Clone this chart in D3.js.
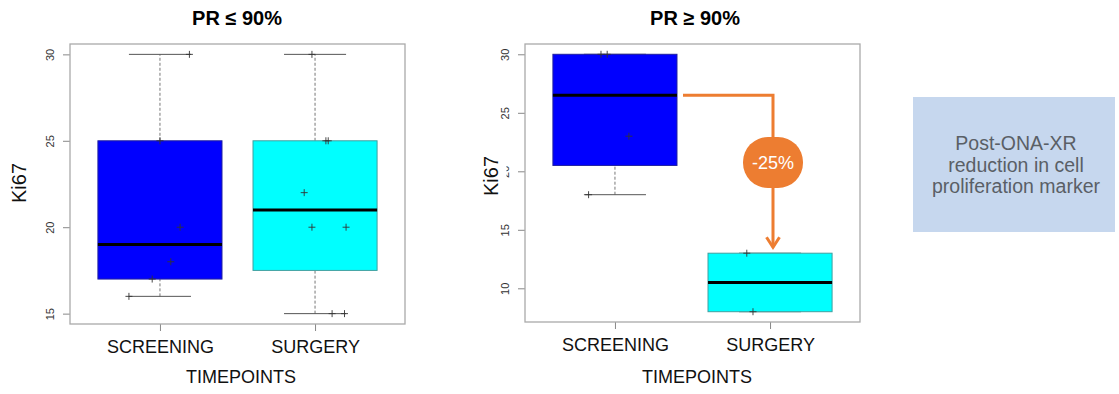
<!DOCTYPE html>
<html>
<head>
<meta charset="utf-8">
<script src="https://cdn.jsdelivr.net/npm/d3@7"></script>
<style>
  body { margin: 0; background: #fff; }
  text { font-family: "Liberation Sans", Arial, sans-serif; }
</style>
</head>
<body>
<div id="root"></div>
<script>
var width = 1119;
var height = 394;

var categories = ['SCREENING', 'SURGERY'];
var colors = ['#0000ff', '#00ffff'];

// PR <= 90% panel, raw Ki67 values per timepoint
var lowScreening = [30, 25, 20, 18, 17, 16];
var lowSurgery = [30, 25, 25, 22, 20, 20, 15, 15];
var lowJitterScreening = [0.19, 0, 0.13, 0.07, -0.05, -0.2];
var lowJitterSurgery = [-0.02, 0.07, 0.085, -0.07, -0.02, 0.2, 0.11, 0.19];
var lowTicks = [15, 20, 25, 30];

// PR >= 90% panel
var highScreening = [30, 30, 23, 18];
var highSurgery = [13, 8];
var highJitterScreening = [-0.09, -0.05, 0.09, -0.17];
var highJitterSurgery = [-0.15, -0.11];
var highTicks = [10, 15, 20, 25, 30];

var titles = ['PR \u2264 90%', 'PR \u2265 90%'];
var reductionLabel = '-25%';
var noteLines = ['Post-ONA-XR', 'reduction in cell', 'proliferation marker'];

var svg = d3.select('#root')
  .append('svg')
    .attr('width', width)
    .attr('height', height);

// R style fivenum
function fivenum(vals) {
  var x = vals.slice().sort(d3.ascending);
  var n = x.length;
  var n4 = Math.floor((n + 3) / 2) / 2;
  var d = [1, n4, (n + 1) / 2, n + 1 - n4, n];
  return d.map(function(v) {
    return 0.5 * (x[Math.floor(v) - 1] + x[Math.ceil(v) - 1]);
  });
}

function drawPanel(opt) {
  var g = svg.append('g');
  var all = opt.groups[0].concat(opt.groups[1]);
  var lo = d3.min(all), hi = d3.max(all);
  var pad = (hi - lo) * 0.04;

  var x = d3.scaleLinear().domain([0.42, 2.58]).range([opt.left, opt.right]);
  var y = d3.scaleLinear().domain([lo - pad, hi + pad]).range([opt.bottom, opt.top]);

  g.append('text')
    .attr('x', opt.titleX)
    .attr('y', 25)
    .attr('text-anchor', 'middle')
    .style('font-size', '20px')
    .style('font-weight', 'bold')
    .text(opt.title);

  // y axis
  var yAxis = d3.axisLeft(y).tickValues(opt.ticks).tickSize(7).tickPadding(0);
  var ya = g.append('g')
    .attr('transform', 'translate(' + opt.left + ',0)')
    .call(yAxis);
  ya.select('.domain').remove();
  ya.selectAll('.tick line').attr('stroke', '#888');
  ya.selectAll('.tick text')
    .attr('transform', 'translate(-16,0) rotate(-90)')
    .attr('x', 0).attr('y', 0).attr('dy', 0)
    .attr('text-anchor', 'middle')
    .style('font-size', '11px')
    .style('font-family', '"Liberation Sans", Arial, sans-serif')
    .attr('fill', '#333');

  // x axis
  var xAxis = d3.axisBottom(x).tickValues([1, 2]).tickSize(7)
    .tickFormat(function(d) { return categories[d - 1]; }).tickPadding(9);
  var xa = g.append('g')
    .attr('transform', 'translate(0,' + opt.bottom + ')')
    .call(xAxis);
  xa.select('.domain').remove();
  xa.selectAll('.tick line').attr('stroke', '#888');
  xa.selectAll('.tick text')
    .style('font-size', '18px')
    .style('font-family', '"Liberation Sans", Arial, sans-serif')
    .attr('fill', '#111');

  g.append('text')
    .attr('x', opt.xLabelX)
    .attr('y', 383)
    .attr('text-anchor', 'middle')
    .style('font-size', '18px')
    .attr('fill', '#111')
    .text('TIMEPOINTS');

  // boxes
  var boxW = 0.8;
  opt.groups.forEach(function(vals, i) {
    var c = i + 1;
    var s = fivenum(vals);
    var iqr = s[3] - s[1];
    var wLo = d3.min(vals.filter(function(v) { return v >= s[1] - 1.5 * iqr; }));
    var wHi = d3.max(vals.filter(function(v) { return v <= s[3] + 1.5 * iqr; }));
    var cx = x(c);

    // whiskers
    [[wLo, s[1]], [s[3], wHi]].forEach(function(w) {
      if (w[0] === w[1]) return;
      g.append('line')
        .attr('x1', cx).attr('x2', cx)
        .attr('y1', y(w[0])).attr('y2', y(w[1]))
        .attr('stroke', '#777').attr('stroke-width', 1)
        .attr('stroke-dasharray', '3,2');
    });
    [wLo, wHi].forEach(function(v) {
      g.append('line')
        .attr('x1', x(c - boxW / 4)).attr('x2', x(c + boxW / 4))
        .attr('y1', y(v)).attr('y2', y(v))
        .attr('stroke', '#555').attr('stroke-width', 1);
    });

    g.append('rect')
      .attr('x', x(c - boxW / 2))
      .attr('y', y(s[3]))
      .attr('width', x(c + boxW / 2) - x(c - boxW / 2))
      .attr('height', y(s[1]) - y(s[3]))
      .attr('fill', colors[i])
      .attr('stroke', i === 0 ? '#2020a0' : '#40a0a0')
      .attr('stroke-width', 1);

    g.append('line')
      .attr('x1', x(c - boxW / 2)).attr('x2', x(c + boxW / 2))
      .attr('y1', y(s[2])).attr('y2', y(s[2]))
      .attr('stroke', '#000').attr('stroke-width', 3);

    // jittered points
    vals.forEach(function(v, k) {
      var px = x(c + opt.jitter[i][k]);
      var py = y(v);
      g.append('path')
        .attr('d', 'M' + (px - 3.5) + ',' + py + 'H' + (px + 3.5) +
                   'M' + px + ',' + (py - 3.5) + 'V' + (py + 3.5))
        .attr('stroke', '#333').attr('stroke-width', 0.9);
    });
  });

  // frame
  g.append('rect')
    .attr('x', opt.left).attr('y', opt.top)
    .attr('width', opt.right - opt.left)
    .attr('height', opt.bottom - opt.top)
    .attr('fill', 'none')
    .attr('stroke', '#aaa')
    .attr('stroke-width', 1.3);

  return { x: x, y: y, stats: opt.groups.map(fivenum) };
}

var left = drawPanel({
  left: 70, right: 405, top: 44, bottom: 324,
  groups: [lowScreening, lowSurgery],
  jitter: [lowJitterScreening, lowJitterSurgery],
  ticks: lowTicks, title: titles[0], titleX: 237, xLabelX: 241
});

var right = drawPanel({
  left: 525, right: 860, top: 44, bottom: 322,
  groups: [highScreening, highSurgery],
  jitter: [highJitterScreening, highJitterSurgery],
  ticks: highTicks, title: titles[1], titleX: 695, xLabelX: 697
});

// the Ki67 label on the right panel hides most of its "20" tick label
svg.append('rect')
  .attr('x', 482).attr('y', 150).attr('width', 24.5).attr('height', 50)
  .attr('fill', '#fff');

[[19, 183], [491, 176]].forEach(function(p) {
  svg.append('text')
    .attr('transform', 'translate(' + (p[0] + 7) + ',' + p[1] + ') rotate(-90)')
    .attr('text-anchor', 'middle')
    .style('font-size', '20px')
    .attr('fill', '#111')
    .text('Ki67');
});

// reduction annotation from screening median down to surgery box
var orange = '#ed7d31';
var yMed = right.y(right.stats[0][2]);
var xTurn = 773;
var yEnd = right.y(right.stats[1][3]) - 6;
svg.append('path')
  .attr('d', 'M683,' + yMed + 'H' + xTurn + 'V' + yEnd)
  .attr('fill', 'none')
  .attr('stroke', orange)
  .attr('stroke-width', 3);
svg.append('path')
  .attr('d', 'M' + (xTurn - 6.5) + ',' + (yEnd - 10) + 'L' + xTurn + ',' + yEnd +
             'L' + (xTurn + 6.5) + ',' + (yEnd - 10))
  .attr('fill', 'none')
  .attr('stroke', orange)
  .attr('stroke-width', 3);
svg.append('rect')
  .attr('x', xTurn - 30).attr('y', 137)
  .attr('width', 60).attr('height', 51)
  .attr('rx', 25).attr('ry', 25)
  .attr('fill', orange);
svg.append('text')
  .attr('x', xTurn).attr('y', 162.5)
  .attr('text-anchor', 'middle')
  .attr('dominant-baseline', 'central')
  .style('font-size', '18px')
  .attr('fill', '#fff')
  .text(reductionLabel);

// note box
svg.append('rect')
  .attr('x', 913).attr('y', 97)
  .attr('width', 202).attr('height', 135)
  .attr('fill', '#c6d7ee');
svg.append('g').selectAll('text')
  .data(noteLines)
  .enter()
  .append('text')
    .attr('x', 1016)
    .attr('y', function(d, i) { return 143 + i * 21.5; })
    .attr('text-anchor', 'middle')
    .attr('dominant-baseline', 'central')
    .style('font-size', '19.5px')
    .attr('fill', '#5a5f66')
    .text(function(d) { return d; });
</script>
</body>
</html>
